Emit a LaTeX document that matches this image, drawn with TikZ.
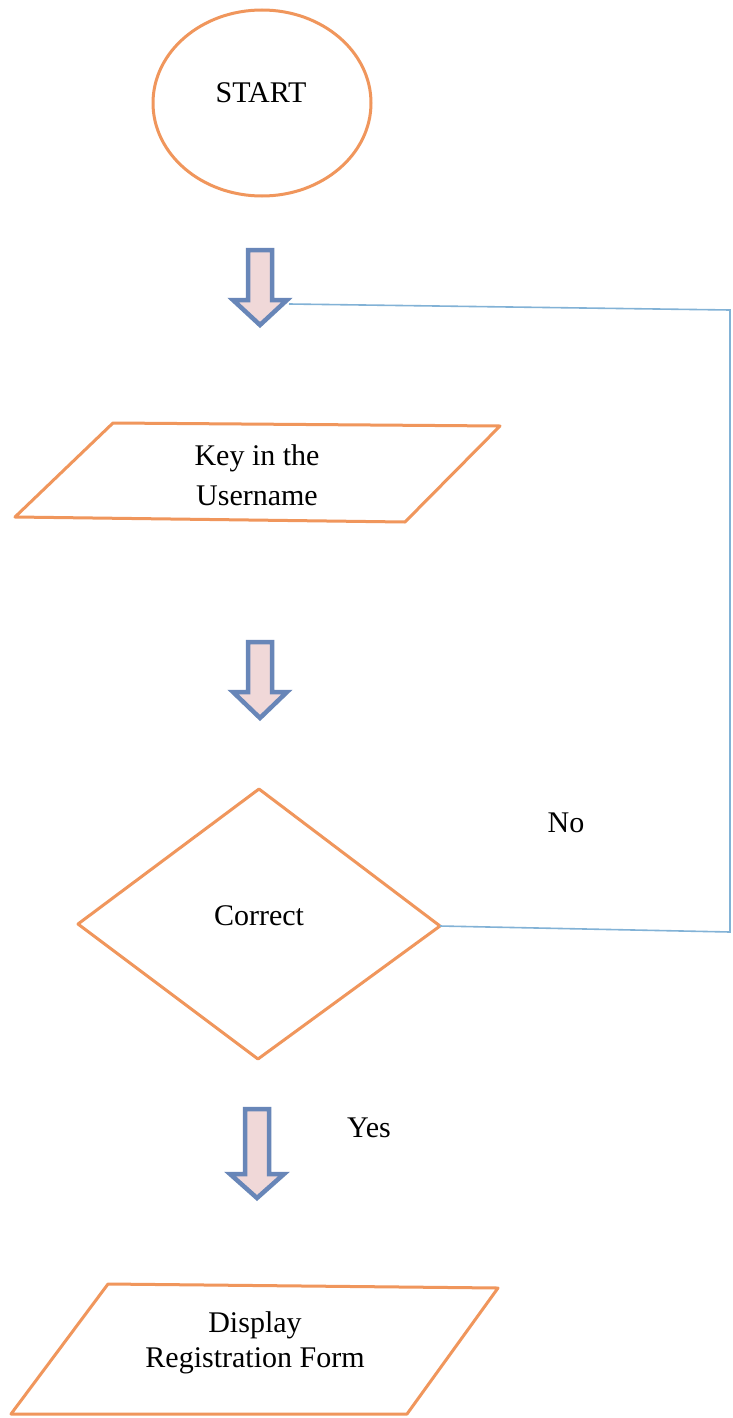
\documentclass[tikz,border=0pt]{standalone}
\usepackage{fontspec}
\setmainfont{Liberation Serif}
\definecolor{shapeorange}{RGB}{240,150,92}
\definecolor{arrowblue}{RGB}{104,134,184}
\definecolor{arrowpink}{RGB}{240,216,216}
\definecolor{linkblue}{RGB}{130,178,214}
\tikzset{
  outline/.style={draw=shapeorange, line width=3pt, line join=round},
  blockarrow/.style={draw=arrowblue, fill=arrowpink, line width=4.5pt, line join=miter},
  linkline/.style={draw=linkblue, line width=1.6pt},
  label/.style={inner sep=0pt, text=black, font=\fontsize{30}{40}\selectfont},
}
\begin{document}
\begin{tikzpicture}[x=1pt,y=-1pt]
\useasboundingbox[fill=white] (0,0) rectangle (732,1418);

% START ellipse
\draw[outline] (262,103) ellipse [x radius=109, y radius=93];
\node[label, anchor=base] (start) at (261,103) {START};

% arrow 1
\draw[blockarrow] (248,250) -- (272,250) -- (272,300) -- (287,300) -- (260,325) -- (233,300) -- (248,300) -- cycle;
\coordinate (a1r) at (289,304);

% Input parallelogram
\coordinate (p1a) at (113,423);
\coordinate (p1b) at (500,426);
\coordinate (p1c) at (405,522);
\coordinate (p1d) at (15,517);
\draw[outline] (p1a) -- (p1b) -- (p1c) -- (p1d) -- cycle;
\node[label, align=center, font=\fontsize{30}{40}\selectfont] (key) at (257,475) {Key in the\\Username};

% arrow 2
\draw[blockarrow] (248,642) -- (272,642) -- (272,692) -- (287,692) -- (260,718) -- (233,692) -- (248,692) -- cycle;

% Decision diamond
\coordinate (dl) at (78,924);
\coordinate (dt) at (259,789);
\coordinate (dr) at (440,926);
\coordinate (db) at (258,1059);
\draw[outline] (dl) -- (dt) -- (dr) -- (db) -- cycle;
\node[label, anchor=base] (correct) at (259,925) {Correct};

% No branch
\node[label, anchor=base] (no) at (566,832) {No};
\coordinate (c1) at (730,310);
\coordinate (c2) at (730,932);
\draw[linkline] (dr) -- (c2) -- (c1) -- (a1r);

% arrow 3
\draw[blockarrow] (245,1109) -- (269,1109) -- (269,1174) -- (284,1174) -- (257,1198) -- (230,1174) -- (245,1174) -- cycle;
\node[label, anchor=base] (yes) at (369,1137) {Yes};

% Output parallelogram
\coordinate (p2a) at (108,1284);
\coordinate (p2b) at (498,1288);
\coordinate (p2c) at (407,1414);
\coordinate (p2d) at (11,1414);
\draw[outline] (p2a) -- (p2b) -- (p2c) -- (p2d) -- cycle;
\node[label, align=center, font=\fontsize{30}{35}\selectfont] (disp) at (255,1342.5) {Display\\Registration Form};
\end{tikzpicture}
\end{document}
